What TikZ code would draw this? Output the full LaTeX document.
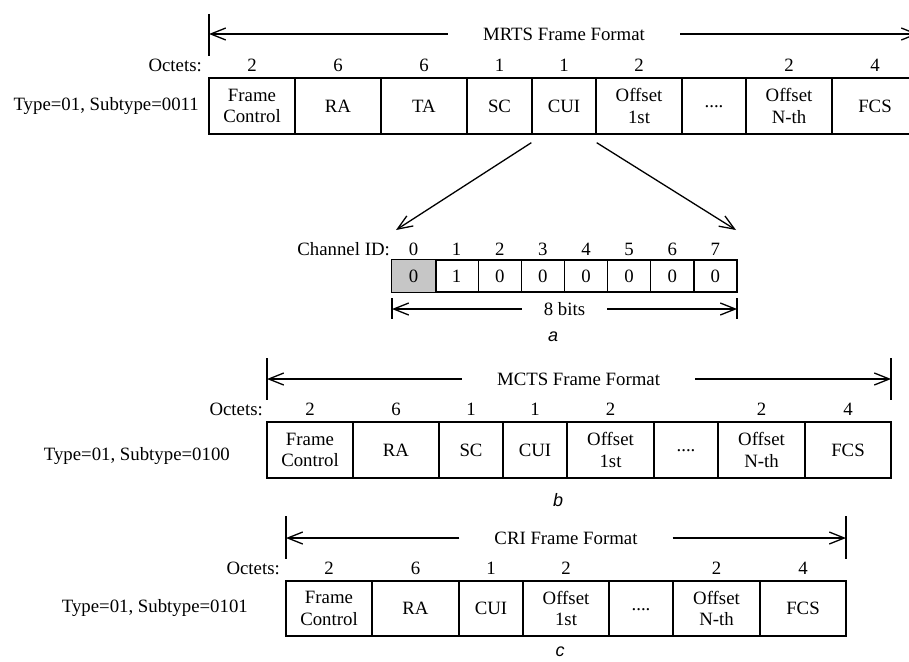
\documentclass[tikz,border=0pt]{standalone}
\usepackage{fontspec}
\setmainfont{Liberation Serif}
\newfontfamily\labfont{Liberation Sans}
\usetikzlibrary{arrows.meta,calc}
\tikzset{
 cell/.style={draw,line width=1.4pt,inner sep=0pt,minimum height=56pt,align=center,font=\fontsize{18.8}{21.5}\selectfont},
 bitcell/.style={draw,line width=1.4pt,inner sep=0pt,minimum width=43.125pt,minimum height=32pt,font=\fontsize{18.8}{21.5}\selectfont},
 txt/.style={inner sep=0pt,font=\fontsize{18.8}{21.5}\selectfont},
 ttl/.style={txt,inner xsep=35pt},
 arr/.style={line width=1.3pt,-{Straight Barb[length=15pt,width=12pt]}},
 barline/.style={line width=1.3pt},
 sublabel/.style={inner sep=0pt,font=\labfont\itshape\fontsize{18}{20}\selectfont}
}
\begin{document}
\begin{tikzpicture}[x=1pt,y=-1pt]
\useasboundingbox (0,0) rectangle (909,661);
\clip (0,0) rectangle (909,661);

% ---------------- MRTS ----------------
\coordinate (mbT) at (209,14); \coordinate (mbB) at (209,56);
\draw[barline] (mbT) -- (mbB);
\coordinate (mL) at (209,34); \coordinate (mR) at (918,34);
\node[ttl] (mT) at (564,34) {MRTS Frame Format};
\draw[arr] (mT.west) -- (mL);
\draw[arr] (mT.east) -- (mR);
\node[txt,anchor=east] (mOct) at (202,65) {Octets:};
\node[txt,anchor=east] (mType) at (199,106) {Type=01, Subtype=0011};
\node[cell,minimum width=86pt] (m1) at (252,106) {Frame\\Control};
\node[cell,minimum width=86pt] (m2) at (338,106) {RA};
\node[cell,minimum width=86pt] (m3) at (424,106) {TA};
\node[cell,minimum width=65pt] (m4) at (499.5,106) {SC};
\node[cell,minimum width=64pt] (m5) at (564,106) {CUI};
\node[cell,minimum width=86pt] (m6) at (639,106) {Offset\\1st};
\node[cell,minimum width=64pt] (m7) at (714,106) {\raisebox{-4pt}{....}};
\node[cell,minimum width=86pt] (m8) at (789,106) {Offset\\N-th};
\node[cell,minimum width=86pt] (m9) at (875,106) {FCS};
\node[txt] (mo1) at (252,65) {2};
\node[txt] (mo2) at (338,65) {6};
\node[txt] (mo3) at (424,65) {6};
\node[txt] (mo4) at (499.5,65) {1};
\node[txt] (mo5) at (564,65) {1};
\node[txt] (mo6) at (639,65) {2};
\node[txt] (mo8) at (789,65) {2};
\node[txt] (mo9) at (875,65) {4};

% ---------------- bits ----------------
\node[txt,anchor=east] (chid) at (390,249) {Channel ID:};
\foreach \i/\v in {0/0,1/1,2/0,3/0,4/0,5/0,6/0,7/0}{
  \node[bitcell] (b\i) at ({392+43.125*\i+21.5625},276) {\v};
  \node[txt] (bi\i) at ({392+43.125*\i+21.5625},249) {\i};
}
\fill[gray!45] (b0.south west) rectangle (b0.north east);
\draw[line width=1.4pt] (b0.south west) rectangle (b0.north east);
\node[bitcell,draw=none] at (b0) {0};

\coordinate (cuiA) at ($(m5.south west)+(0,8)$);
\coordinate (cuiB) at ($(m5.south east)+(0,8)$);
\coordinate (tipA) at (396,230);
\coordinate (tipB) at (736,230);
\draw[arr] (cuiA) -- (tipA);
\draw[arr] (cuiB) -- (tipB);

\coordinate (bbLT) at (392,298); \coordinate (bbLB) at (392,319);
\coordinate (bbRT) at (737,298); \coordinate (bbRB) at (737,319);
\draw[barline] (bbLT) -- (bbLB);
\draw[barline] (bbRT) -- (bbRB);
\coordinate (bbL) at (392,309); \coordinate (bbR) at (737,309);
\node[txt,inner xsep=22pt] (bbT) at (564.5,309) {8 bits};
\draw[arr] (bbT.west) -- (bbL);
\draw[arr] (bbT.east) -- (bbR);
\node[sublabel] (la) at (553,337) {a};

% ---------------- MCTS ----------------
\coordinate (nbLT) at (267,358); \coordinate (nbLB) at (267,400);
\coordinate (nbRT) at (891,358); \coordinate (nbRB) at (891,400);
\draw[barline] (nbLT) -- (nbLB);
\draw[barline] (nbRT) -- (nbRB);
\coordinate (nL) at (267,379); \coordinate (nR) at (891,379);
\node[ttl] (nT) at (578.5,379) {MCTS Frame Format};
\draw[arr] (nT.west) -- (nL);
\draw[arr] (nT.east) -- (nR);
\node[txt,anchor=east] (nOct) at (263,409) {Octets:};
\node[txt,anchor=east] (nType) at (230,456) {Type=01, Subtype=0100};
\node[cell,minimum width=86pt] (n1) at (310,450) {Frame\\Control};
\node[cell,minimum width=86pt] (n2) at (396,450) {RA};
\node[cell,minimum width=64pt] (n3) at (471,450) {SC};
\node[cell,minimum width=64pt] (n4) at (535,450) {CUI};
\node[cell,minimum width=87pt] (n5) at (610.5,450) {Offset\\1st};
\node[cell,minimum width=64pt] (n6) at (686,450) {\raisebox{-4pt}{....}};
\node[cell,minimum width=87pt] (n7) at (761.5,450) {Offset\\N-th};
\node[cell,minimum width=86pt] (n8) at (848,450) {FCS};
\node[txt] (no1) at (310,409) {2};
\node[txt] (no2) at (396,409) {6};
\node[txt] (no3) at (471,409) {1};
\node[txt] (no4) at (535,409) {1};
\node[txt] (no5) at (610.5,409) {2};
\node[txt] (no7) at (761.5,409) {2};
\node[txt] (no8) at (848,409) {4};
\node[sublabel] (lb) at (558,500) {b};

% ---------------- CRI ----------------
\coordinate (cbLT) at (286,516); \coordinate (cbLB) at (286,559);
\coordinate (cbRT) at (846,516); \coordinate (cbRB) at (846,559);
\draw[barline] (cbLT) -- (cbLB);
\draw[barline] (cbRT) -- (cbRB);
\coordinate (cL) at (286,538); \coordinate (cR) at (846,538);
\node[ttl] (cT) at (566,538) {CRI Frame Format};
\draw[arr] (cT.west) -- (cL);
\draw[arr] (cT.east) -- (cR);
\node[txt,anchor=east] (cOct) at (280,568) {Octets:};
\node[txt,anchor=east] (cType) at (248,608) {Type=01, Subtype=0101};
\node[cell,minimum width=86pt,minimum height=55pt] (c1) at (329,608.5) {Frame\\Control};
\node[cell,minimum width=87pt,minimum height=55pt] (c2) at (415.5,608.5) {RA};
\node[cell,minimum width=64pt,minimum height=55pt] (c3) at (491,608.5) {CUI};
\node[cell,minimum width=86pt,minimum height=55pt] (c4) at (566,608.5) {Offset\\1st};
\node[cell,minimum width=64pt,minimum height=55pt] (c5) at (641,608.5) {\raisebox{-4pt}{....}};
\node[cell,minimum width=87pt,minimum height=55pt] (c6) at (716.5,608.5) {Offset\\N-th};
\node[cell,minimum width=86pt,minimum height=55pt] (c7) at (803,608.5) {FCS};
\node[txt] (co1) at (329,568) {2};
\node[txt] (co2) at (415.5,568) {6};
\node[txt] (co3) at (491,568) {1};
\node[txt] (co4) at (566,568) {2};
\node[txt] (co6) at (716.5,568) {2};
\node[txt] (co7) at (803,568) {4};
\node[sublabel] (lc) at (560,652) {c};
\end{tikzpicture}
\end{document}
